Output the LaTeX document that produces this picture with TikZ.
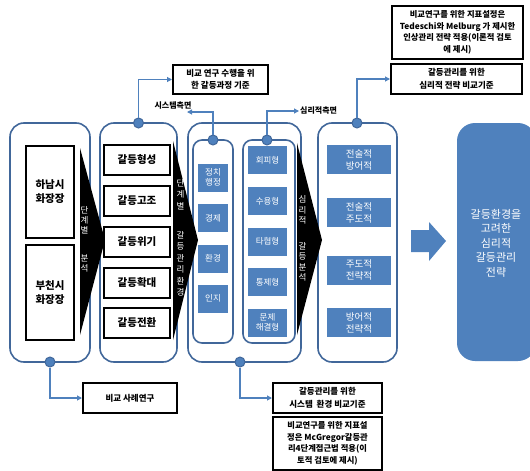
\documentclass[tikz,border=0pt]{standalone}
\usepackage{fontspec}
\setmainfont{Noto Sans CJK KR}
\usetikzlibrary{arrows.meta}
\definecolor{pnl}{HTML}{41679A}
\definecolor{bfill}{HTML}{4F81BD}
\definecolor{lnk}{HTML}{4F81BD}
\tikzset{
 panel/.style={draw=pnl, line width=1.6pt, rounded corners=14pt, inner sep=0pt},
 ipanel/.style={draw=pnl, line width=1.6pt, rounded corners=9pt, inner sep=0pt},
 bbox/.style={draw=black, line width=2pt, fill=white, font=\bfseries\fontsize{10.5}{14}\selectfont, align=center, inner sep=0pt},
 bluebox/.style={fill=bfill, text=white, align=center, inner sep=0pt, font=\fontsize{8.5}{10.5}\selectfont},
 bluebig/.style={fill=bfill, text=white, align=center, inner sep=0pt, font=\fontsize{9.5}{12}\selectfont},
 note/.style={draw=black, line width=2pt, fill=white, align=center, inner sep=0pt, font=\bfseries\fontsize{8.5}{12.5}\selectfont},
 dot/.style={circle, fill=bfill, draw=pnl, line width=1pt, minimum size=10pt, inner sep=0pt},
 connector/.style={draw=lnk, line width=1.1pt, -{Triangle[length=5pt,width=5pt]}},
 lbl/.style={font=\bfseries\fontsize{8}{9}\selectfont, inner sep=0pt},
 vtxt/.style={text=white, align=center, inner sep=0pt},
}
\begin{document}
\begin{tikzpicture}[x=1pt,y=-1pt]
\useasboundingbox (0,0) rectangle (530,471);
% panels
\node[panel, minimum width=80pt, minimum height=239pt] (p1) at (50,242.5) {};
\node[panel, minimum width=77pt, minimum height=239pt] (p2) at (138.5,242.5) {};
\node[panel, minimum width=113pt, minimum height=239pt] (p3) at (244.5,242.5) {};
\node[ipanel, minimum width=40pt, minimum height=203pt] (p3a) at (213,241.5) {};
\node[ipanel, minimum width=52pt, minimum height=203pt] (p3b) at (269,241.5) {};
\node[panel, minimum width=79pt, minimum height=239pt] (p4) at (357.5,242.5) {};
% chevrons
\fill[black] (80,148) -- (105,240) -- (80,335) -- cycle;
\fill[black] (173,141) -- (198,240) -- (173,340) -- cycle;
\fill[black] (297,143) -- (322,240) -- (297,335) -- cycle;
\node[vtxt, font=\fontsize{8.5}{10}\selectfont] (v1) at (84.5,239) {단\\계\\별\\[18pt]분\\석};
\node[vtxt, font=\fontsize{8.5}{11.5}\selectfont] (v2) at (180.5,238) {단\\계\\별\\[17.5pt]갈\\등\\관\\리\\환\\경};
\node[vtxt, font=\fontsize{8.5}{10.3}\selectfont] (v3) at (302.5,238.5) {심\\리\\적\\[16pt]갈\\등\\분\\석};
% panel 1 boxes
\node[bbox, minimum width=48pt, minimum height=92pt] (h1) at (50,192) {하남시\\화장장};
\node[bbox, minimum width=48pt, minimum height=95pt] (h2) at (50,292.5) {부천시\\화장장};
% panel 2 boxes
\node[bbox, minimum width=66pt, minimum height=30pt] (s1) at (137,160) {갈등형성};
\node[bbox, minimum width=66pt, minimum height=30pt] (s2) at (137,201) {갈등고조};
\node[bbox, minimum width=66pt, minimum height=30pt] (s3) at (137,242) {갈등위기};
\node[bbox, minimum width=66pt, minimum height=30pt] (s4) at (137,282.5) {갈등확대};
\node[bbox, minimum width=66pt, minimum height=30pt] (s5) at (137,323) {갈등전환};
% panel 3a boxes
\node[bluebox, minimum width=30pt, minimum height=28pt] (e1) at (213,177.5) {정치\\행정};
\node[bluebox, minimum width=30pt, minimum height=28pt] (e2) at (213,218) {경제};
\node[bluebox, minimum width=30pt, minimum height=28pt] (e3) at (213,258.5) {환경};
\node[bluebox, minimum width=30pt, minimum height=28pt] (e4) at (213,298.5) {인지};
% panel 3b boxes
\node[bluebox, minimum width=39pt, minimum height=28pt] (t1) at (267.5,160) {회피형};
\node[bluebox, minimum width=39pt, minimum height=28pt] (t2) at (267.5,201) {수용형};
\node[bluebox, minimum width=39pt, minimum height=28pt] (t3) at (267.5,241.5) {타협형};
\node[bluebox, minimum width=39pt, minimum height=28pt] (t4) at (267.5,282) {통제형};
\node[bluebox, minimum width=39pt, minimum height=28pt] (t5) at (267.5,322.5) {문제\\해결형};
% panel 4 boxes
\node[bluebig, minimum width=64pt, minimum height=29pt] (q1) at (359,159.5) {전술적\\방어적};
\node[bluebig, minimum width=64pt, minimum height=29pt] (q2) at (359,212.5) {전술적\\주도적};
\node[bluebig, minimum width=64pt, minimum height=29pt] (q3) at (359,270) {주도적\\전략적};
\node[bluebig, minimum width=64pt, minimum height=29pt] (q4) at (359,322.5) {방어적\\전략적};
% big arrow and result
\fill[bfill] (411,230) -- (429,230) -- (429,222) -- (446,241) -- (429,261) -- (429,252) -- (411,252) -- cycle;
\node[fill=bfill, rounded corners=18pt, minimum width=79pt, minimum height=238pt, inner sep=0pt] (res) at (496.5,242) {};
\node[text=white, align=center, font=\fontsize{11}{14.5}\selectfont, inner sep=0pt] (restext) at (496,243) {갈등환경을\\고려한\\심리적\\갈등관리\\전략};
% notes
\node[note, minimum width=95pt, minimum height=29pt] (n1) at (220.5,79.5) {비교 연구 수행을 위\\한 갈등과정 기준};
\node[note, minimum width=131pt, minimum height=30pt] (n2) at (456.5,79) {갈등관리를 위한\\심리적 전략 비교기준};
\node[note, minimum width=131pt, minimum height=53pt, font=\bfseries\fontsize{8.3}{11.5}\selectfont] (n3) at (457.5,32.5) {비교연구를 위한 지표설정은\\Tedeschi와 Melburg 가 제시한\\인상관리 전략 적용(이론적 검토\\에 제시)};
\node[note, minimum width=94pt, minimum height=30pt] (n4) at (130,398) {비교 사례연구};
\node[note, minimum width=109pt, minimum height=30pt] (n5) at (327.5,398) {갈등관리를 위한\\시스템~~환경 비교기준};
\node[note, minimum width=109pt, minimum height=53pt, font=\bfseries\fontsize{8.3}{11.5}\selectfont] (n6) at (327.5,443.5) {비교연구를 위한 지표설\\정은 McGregor갈등관\\리4단계접근법 적용(이\\토적 검토에 제시)};
% labels
\node[lbl] (sysl) at (173,106) {시스템측면};
\node[lbl, anchor=west] (psyl) at (300,111) {심리적측면};
\coordinate (sysend) at (187,112);
\coordinate (psyend) at (299,111);
% dots
\node[dot] (d1) at (50,362) {};
\node[dot] (d2) at (138.5,123) {};
\node[dot] (d3) at (240,362) {};
\node[dot] (d3a) at (213,140) {};
\node[dot] (d3b) at (267,140) {};
\node[dot] (d4) at (357,123) {};
% connectors
\draw[connector] (d2.north) |- (n1.west);
\draw[connector] (d4.north) |- (n2.west);
\draw[connector] (d3a.north) |- (sysend);
\draw[connector] (d3b.north) |- (psyend);
\draw[connector] (d1.south) |- (n4.west);
\draw[connector] (d3.south) |- (n5.west);
\end{tikzpicture}
\end{document}
